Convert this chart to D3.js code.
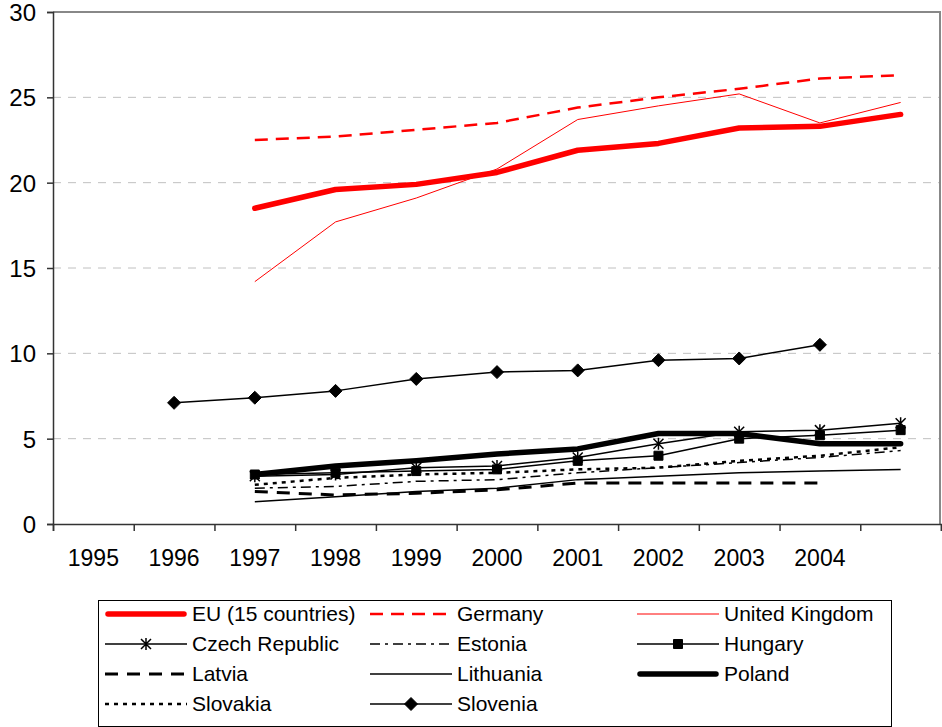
<!DOCTYPE html>
<html>
<head>
<meta charset="utf-8">
<script src="https://cdn.jsdelivr.net/npm/d3@7"></script>
<style>
  body { margin: 0; background: #fff; }
  svg text { font-family: "Liberation Sans", Arial, sans-serif; fill: #000; }
</style>
</head>
<body>
<div id="chart"></div>
<script>
// years on the category axis (the last one has no label in the original)
var years = [1995, 1996, 1997, 1998, 1999, 2000, 2001, 2002, 2003, 2004, 2005];
var yearLabels = ["1995", "1996", "1997", "1998", "1999", "2000", "2001", "2002", "2003", "2004", ""];
var yTicks = [0, 5, 10, 15, 20, 25, 30];

var eu        = [null, null, 18.5, 19.6, 19.9, 20.6, 21.9, 22.3, 23.2, 23.3, 24.0];
var germany   = [null, null, 22.5, 22.7, 23.1, 23.5, 24.4, 25.0, 25.5, 26.1, 26.3];
var uk        = [null, null, 14.2, 17.7, 19.1, 20.8, 23.7, 24.5, 25.2, 23.5, 24.7];
var czech     = [null, null, 2.8, 2.9, 3.3, 3.4, 3.9, 4.7, 5.4, 5.5, 5.9];
var estonia   = [null, null, 2.1, 2.2, 2.5, 2.6, 3.0, 3.3, 3.6, 3.9, 4.3];
var hungary   = [null, null, 2.9, 3.0, 3.1, 3.2, 3.7, 4.0, 5.0, 5.2, 5.5];
var latvia    = [null, null, 1.9, 1.7, 1.8, 2.0, 2.4, 2.4, 2.4, 2.4, null];
var lithuania = [null, null, 1.3, 1.6, 1.9, 2.1, 2.6, 2.8, 3.0, 3.1, 3.2];
var poland    = [null, null, 2.9, 3.4, 3.7, 4.1, 4.4, 5.3, 5.3, 4.7, 4.7];
var slovakia  = [null, null, 2.3, 2.7, 2.9, 3.0, 3.2, 3.3, 3.7, 4.0, 4.5];
var slovenia  = [null, 7.1, 7.4, 7.8, 8.5, 8.9, 9.0, 9.6, 9.7, 10.5, null];

var seriesNames = ["EU (15 countries)", "Germany", "United Kingdom", "Czech Republic", "Estonia",
                   "Hungary", "Latvia", "Lithuania", "Poland", "Slovakia", "Slovenia"];
var seriesValues = [eu, germany, uk, czech, estonia, hungary, latvia, lithuania, poland, slovakia, slovenia];

// styling per series, same order as above
var styles = [
  { color: "#ff0000", width: 5.5, dash: null, cap: "round" },
  { color: "#ff0000", width: 2.5, dash: "13,8", cap: "butt" },
  { color: "#ff0000", width: 1, dash: null, cap: "butt" },
  { color: "#000", width: 1.5, dash: null, cap: "butt", marker: "star" },
  { color: "#000", width: 1.5, dash: "10,5,3,5", cap: "butt" },
  { color: "#000", width: 1.5, dash: null, cap: "butt", marker: "square" },
  { color: "#000", width: 3, dash: "13,9", cap: "butt" },
  { color: "#000", width: 1.5, dash: null, cap: "butt" },
  { color: "#000", width: 5.5, dash: null, cap: "round" },
  { color: "#000", width: 2.5, dash: "4,5", cap: "butt" },
  { color: "#000", width: 1.5, dash: null, cap: "butt", marker: "diamond" }
];

const chartWidth = 942;
const chartHeight = 727;
const plotLeft = 53, plotRight = 941, plotTop = 12, plotBottom = 524;

var svg = d3.select("#chart").append("svg")
  .attr("width", chartWidth)
  .attr("height", chartHeight);

// edges of the categories; points sit in the middle of each one
var xEdge = d3.scaleLinear().domain([0, years.length]).range([plotLeft, plotRight]);
function xPos(i) { return xEdge(i + 0.5); }

var yScale = d3.scaleLinear().domain([0, 30]).range([plotBottom, plotTop]);

// dashed gridlines
svg.append("g")
  .selectAll("line")
  .data(yTicks.filter(function(d) { return d > 0 && d < 30; }))
  .enter().append("line")
  .attr("x1", plotLeft).attr("x2", plotRight)
  .attr("y1", function(d) { return yScale(d); })
  .attr("y2", function(d) { return yScale(d); })
  .style("stroke", "#c0c0c0")
  .style("stroke-width", 1)
  .style("stroke-dasharray", "8,7");

// top and right border of the plot area
svg.append("path")
  .attr("d", "M" + plotLeft + "," + yScale(30) + "H" + (plotRight - 1) + "V" + plotBottom)
  .style("fill", "none")
  .style("stroke", "#888")
  .style("stroke-width", 2);

// y axis
var yAxis = d3.axisLeft(yScale).tickValues(yTicks).tickSize(6).tickPadding(11);
var gy = svg.append("g")
  .attr("transform", "translate(" + plotLeft + ",0)")
  .call(yAxis);
gy.select(".domain").style("stroke", "#333").style("stroke-width", 1.5);
gy.selectAll(".tick line").style("stroke", "#333").style("stroke-width", 1.5);
gy.selectAll("text").style("font-size", "24px").attr("font-family", null).attr("dy", "0.35em");

// x axis: ticks between categories
var xAxis = d3.axisBottom(xEdge)
  .tickValues(d3.range(0, years.length + 1))
  .tickSize(7)
  .tickFormat("");
var gx = svg.append("g")
  .attr("transform", "translate(0," + plotBottom + ")")
  .call(xAxis);
gx.select(".domain").style("stroke", "#333").style("stroke-width", 1.5);
gx.selectAll(".tick line").style("stroke", "#333").style("stroke-width", 1.5);

svg.append("g")
  .selectAll("text")
  .data(yearLabels)
  .enter().append("text")
  .attr("x", function(d, i) { return xPos(i); })
  .attr("y", plotBottom + 42)
  .style("text-anchor", "middle")
  .style("font-size", "23px")
  .text(function(d) { return d; });

// series lines
var line = d3.line()
  .defined(function(d) { return d != null; })
  .x(function(d, i) { return xPos(i); })
  .y(function(d) { return yScale(d); });

function markerPath(type) {
  if (type === "star") return "M-5,-5L5,5M-5,5L5,-5M0,-6L0,6";
  if (type === "square") return "M-4.5,-4.5H4.5V4.5H-4.5Z";
  if (type === "diamond") return "M0,-6.5L6.5,0L0,6.5L-6.5,0Z";
  return "";
}

seriesValues.forEach(function(vals, s) {
  var st = styles[s];
  svg.append("path")
    .datum(vals)
    .attr("d", line)
    .style("fill", "none")
    .style("stroke", st.color)
    .style("stroke-width", st.width)
    .style("stroke-dasharray", st.dash)
    .style("stroke-linecap", st.cap)
    .style("stroke-linejoin", "round");

  if (st.marker) {
    svg.append("g")
      .selectAll("path")
      .data(vals.map(function(v, i) { return { v: v, i: i }; }).filter(function(d) { return d.v != null; }))
      .enter().append("path")
      .attr("transform", function(d) { return "translate(" + xPos(d.i) + "," + yScale(d.v) + ")"; })
      .attr("d", markerPath(st.marker))
      .style("fill", st.marker === "star" ? "none" : "#000")
      .style("stroke", "#000")
      .style("stroke-width", st.marker === "star" ? 1.5 : 1);
  }
});

// legend
var legendX = 98, legendY = 600, legendW = 793, legendH = 126;
var colX = [105, 370, 637];
var rowH = 30;

svg.append("rect")
  .attr("x", legendX + 0.5).attr("y", legendY + 0.5)
  .attr("width", legendW).attr("height", legendH)
  .style("fill", "#fff")
  .style("stroke", "#000")
  .style("stroke-width", 1);

seriesNames.forEach(function(name, s) {
  var st = styles[s];
  var col = s % 3, row = Math.floor(s / 3);
  var x0 = colX[col], x1 = x0 + 82;
  var y = legendY + 14 + row * rowH;
  var g = svg.append("g");
  g.append("line")
    .attr("x1", x0 + (st.cap === "round" ? 3 : 0)).attr("x2", x1 - (st.cap === "round" ? 3 : 0))
    .attr("y1", y).attr("y2", y)
    .style("stroke", st.color)
    .style("stroke-width", st.width)
    .style("stroke-dasharray", st.dash)
    .style("stroke-linecap", st.cap);
  if (st.marker) {
    g.append("path")
      .attr("transform", "translate(" + ((x0 + x1) / 2) + "," + y + ")")
      .attr("d", markerPath(st.marker))
      .style("fill", st.marker === "star" ? "none" : "#000")
      .style("stroke", "#000")
      .style("stroke-width", st.marker === "star" ? 1.5 : 1);
  }
  g.append("text")
    .attr("x", x1 + 5)
    .attr("y", y)
    .attr("dy", "0.35em")
    .style("font-size", "21px")
    .text(name);
});
</script>
</body>
</html>
